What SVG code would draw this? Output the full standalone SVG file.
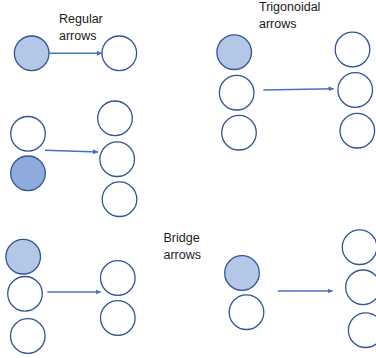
<svg xmlns="http://www.w3.org/2000/svg" width="376" height="358" viewBox="0 0 376 358">
<defs>
<marker id="ah" markerWidth="6" markerHeight="6" refX="5" refY="3" orient="auto" markerUnits="userSpaceOnUse">
<path d="M0,0.5 L5.5,3 L0,5.5 Z" fill="#4472c4"/>
</marker>
<style>
.c{fill:#ffffff;stroke:#2f5597;stroke-width:1.3}
.f{fill:#b4c7e7;stroke:#2f5597;stroke-width:1.3}
.d{fill:#8faadc;stroke:#2f5597;stroke-width:1.3}
.a{stroke:#4472c4;stroke-width:1.4;fill:none;marker-end:url(#ah)}
.t{font-family:"Liberation Sans",Arial,sans-serif;font-size:12.5px;fill:#1a1a1a}
</style>
</defs>
<rect width="376" height="358" fill="#ffffff"/>
<g id="labels">
<text class="t" x="59" y="23">Regular</text>
<text class="t" x="59" y="39.5">arrows</text>
<text class="t" x="259" y="11">Trigonoidal</text>
<text class="t" x="259" y="27.5">arrows</text>
<text class="t" x="163.5" y="242">Bridge</text>
<text class="t" x="163.5" y="258.5">arrows</text>
</g>
<g id="n1"><circle class="f" cx="31.7" cy="53.3" r="17.3"/></g>
<g id="n2"><circle class="c" cx="119.3" cy="53.3" r="17.3"/></g>
<g id="n3"><circle class="f" cx="234.2" cy="52.2" r="17.3"/></g>
<g id="n4"><circle class="c" cx="236.7" cy="92.7" r="17.3"/></g>
<g id="n5"><circle class="c" cx="239" cy="132.7" r="17.3"/></g>
<g id="n6"><circle class="c" cx="352.5" cy="49.5" r="17.3"/></g>
<g id="n7"><circle class="c" cx="355.2" cy="90" r="17.3"/></g>
<g id="n8"><circle class="c" cx="357.3" cy="130.7" r="17.3"/></g>
<g id="n9"><circle class="c" cx="28" cy="133.8" r="17.3"/></g>
<g id="n10"><circle class="d" cx="28" cy="173.3" r="17.3"/></g>
<g id="n11"><circle class="c" cx="115" cy="118.3" r="17.3"/></g>
<g id="n12"><circle class="c" cx="117.2" cy="159.2" r="17.3"/></g>
<g id="n13"><circle class="c" cx="119.5" cy="199.2" r="17.3"/></g>
<g id="n14"><circle class="f" cx="23.2" cy="256.7" r="17.3"/></g>
<g id="n15"><circle class="c" cx="25" cy="293.8" r="17.3"/></g>
<g id="n16"><circle class="c" cx="27.8" cy="336" r="17.3"/></g>
<g id="n17"><circle class="c" cx="117.8" cy="278" r="17.3"/></g>
<g id="n18"><circle class="c" cx="117.8" cy="318" r="17.3"/></g>
<g id="n19"><circle class="f" cx="242" cy="273" r="17.3"/></g>
<g id="n20"><circle class="c" cx="246.5" cy="312.2" r="17.3"/></g>
<g id="n21"><circle class="c" cx="359.6" cy="247.2" r="17.3"/></g>
<g id="n22"><circle class="c" cx="363" cy="287.3" r="17.3"/></g>
<g id="n23"><circle class="c" cx="365.7" cy="330.2" r="17.3"/></g>
<g id="connectors">
<line class="a" x1="49" y1="53.3" x2="102" y2="53.3"/>
<line class="a" x1="263.3" y1="90" x2="333.5" y2="88.7"/>
<line class="a" x1="45" y1="150.3" x2="98" y2="152"/>
<line class="a" x1="47.3" y1="292" x2="100.5" y2="292"/>
<line class="a" x1="277.7" y1="291" x2="332.5" y2="291"/>
</g>
</svg>
